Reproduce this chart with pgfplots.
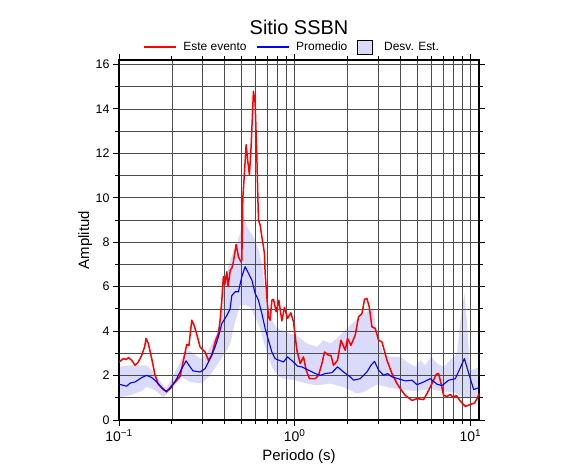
\documentclass[border=0pt]{standalone}
\usepackage{fontspec}
\setmainfont{Liberation Sans}
\usepackage{pgfplots}
\pgfplotsset{compat=1.18}
\usepgfplotslibrary{fillbetween}
\definecolor{bandcol}{RGB}{218,218,250}
\pgfplotsset{
  linelegend/.style={legend image code/.code={\draw[##1] (0bp,0bp) -- (32bp,0bp);}},
  boxlegend/.style={legend image code/.code={\draw[##1] (0bp,-7bp) rectangle (15bp,7bp);\path[draw=none,fill=none] (0bp,0bp) -- (20bp,0bp);}},
}
\begin{document}
\begin{tikzpicture}
\begin{axis}[
  at={(0,0)}, anchor=south west,
  scale only axis, width=360bp, height=360bp,
  set layers,
  xmode=log, xmin=0.1, xmax=11.2, ymin=0, ymax=16.2,
  xtick={0.1,1,10},
  xticklabels={{10\textsuperscript{\fontsize{10}{11}\selectfont −1}},{10\textsuperscript{\fontsize{10}{11}\selectfont 0}},{10\textsuperscript{\fontsize{10}{11}\selectfont 1}}},
  minor xtick={0.2,0.3,0.4,0.5,0.6,0.7,0.8,0.9,2,3,4,5,6,7,8,9},
  ytick={0,2,...,16}, minor ytick={1,3,...,15},
  grid=both,
  major grid style={black!70, line width=0.7bp},
  minor grid style={black!70, line width=0.7bp},
  axis line style={line width=1.6bp, black},
  tick align=outside,
  major tick length=6bp, minor tick length=4bp,
  tick style={black, line width=0.9bp},
  yticklabel style={font=\fontsize{12.5}{14}\selectfont},
  xticklabel style={font=\fontsize{14}{16}\selectfont},
  /pgf/number format/assume math mode=true,
  xlabel={Periodo (s)}, ylabel={Amplitud},
  label style={font=\fontsize{15}{18}\selectfont},
  xlabel style={at={(axis description cs:0.5,-0.103)}, anchor=center},
  ylabel style={at={(axis description cs:-0.094,0.5)}, anchor=center},
  title={Sitio SSBN},
  title style={at={(axis description cs:0.5,1.075)}, anchor=center, font=\fontsize{20}{24}\selectfont},
  legend style={at={(axis description cs:0.481,1.036)}, anchor=center, draw=none, fill=none,
    font=\fontsize{12}{14}\selectfont, inner sep=0pt,
    /tikz/every odd column/.append style={column sep=4.5bp},
    /tikz/every even column/.append style={column sep=8bp}},
  legend columns=3, legend cell align=left,
]
\addlegendimage{draw=red, line width=1.5bp, linelegend}
\addlegendentry{Este evento}
\addlegendimage{draw=blue, line width=1.1bp, linelegend}
\addlegendentry{Promedio}
\addlegendimage{fill=bandcol, draw=black, line width=0.8bp, boxlegend}
\addlegendentry{Desv. Est.}

\addplot[name path=up, draw=none, forget plot] coordinates {
(0.1000,2.39) (0.1155,2.46) (0.1438,2.46) (0.1604,2.09) (0.1788,1.55) (0.1870,1.45)
(0.2000,1.90) (0.2227,2.60) (0.2408,3.14) (0.2539,3.10) (0.2894,2.76) (0.3160,2.99)
(0.3450,3.59) (0.3680,4.00) (0.3763,4.50) (0.3929,6.00) (0.4290,7.20) (0.4685,7.95)
(0.4893,8.40) (0.5108,9.23) (0.5341,8.70) (0.5577,8.48) (0.5956,8.10) (0.6219,7.65)
(0.6503,7.05) (0.6790,5.85) (0.7091,5.09) (0.7416,4.49) (0.7920,4.12) (0.9342,3.89)
(1.029,3.82) (1.075,3.67) (1.174,3.44) (1.339,3.29) (1.459,3.59) (1.594,3.44)
(1.740,3.67) (1.897,3.96) (2.071,4.27) (2.361,4.64) (2.633,4.94) (2.812,4.94)
(2.940,3.74) (3.206,2.99) (3.500,2.84) (3.991,2.84) (4.357,2.61) (4.861,2.39)
(5.190,2.69) (5.541,2.46) (5.971,2.87) (6.461,2.54) (7.046,2.39) (7.692,2.69)
(8.398,2.99) (8.770,4.49) (9.244,5.70) (9.576,4.34) (10.00,2.24) (10.68,2.31) (11.21,2.39)
};
\addplot[name path=lo, draw=none, forget plot] coordinates {
(0.1000,1.03) (0.1155,1.11) (0.1347,1.30) (0.1438,1.50) (0.1604,1.34) (0.1788,1.03)
(0.1997,1.41) (0.2277,1.94) (0.2539,1.71) (0.2960,1.64) (0.3300,2.01) (0.3763,2.69)
(0.4108,3.14) (0.4290,3.44) (0.4581,4.42) (0.4893,5.17) (0.5223,5.17) (0.5577,5.09)
(0.5956,4.64) (0.6359,4.12) (0.6790,3.29) (0.7091,2.84) (0.7416,2.39) (0.7745,2.16)
(0.8128,1.94) (0.8634,1.86) (1.0065,1.79) (1.174,1.64) (1.339,1.56) (1.594,1.64)
(1.897,1.48) (2.262,1.19) (2.466,1.26) (2.940,1.60) (3.500,1.45) (4.168,1.35)
(4.970,1.30) (5.916,1.40) (6.746,1.30) (8.032,1.25) (8.770,1.11) (9.158,1.03)
(9.576,0.96) (10.00,0.96) (11.21,1.11)
};
\addplot[fill=bandcol, draw=none, forget plot] fill between[of=up and lo, on layer=axis background];

\addplot[red, line width=1.5bp, line join=round, forget plot] coordinates {
(0.1000,2.61) (0.1058,2.76) (0.1100,2.72) (0.1130,2.81) (0.1181,2.69) (0.1234,2.46)
(0.1288,2.61) (0.1347,2.91) (0.1400,3.30) (0.1425,3.67) (0.1469,3.44) (0.1536,2.76)
(0.1604,2.01) (0.1675,1.60) (0.1788,1.37) (0.1870,1.26) (0.1997,1.56) (0.2132,1.79)
(0.2230,1.98) (0.2370,2.99) (0.2431,3.40) (0.2500,3.35) (0.2596,4.49) (0.2675,4.27)
(0.2794,3.75) (0.2894,3.29) (0.3000,3.15) (0.3090,3.06) (0.3227,2.69) (0.3375,2.91)
(0.3524,3.51) (0.3680,3.90) (0.3763,4.49) (0.3848,5.39) (0.3929,6.45) (0.4000,6.10)
(0.4108,6.67) (0.4180,6.00) (0.4300,6.75) (0.4387,6.83) (0.4479,7.12) (0.4642,7.90)
(0.4784,7.35) (0.4937,7.12) (0.5002,7.20) (0.5068,10.0) (0.5176,11.1) (0.5292,12.39)
(0.5411,11.63) (0.5526,11.03) (0.5651,12.31) (0.5824,14.79) (0.5956,14.27) (0.6090,11.86)
(0.6219,9.00) (0.6350,8.80) (0.6503,8.25) (0.6641,7.80) (0.6729,7.50) (0.6790,6.60)
(0.6944,5.54) (0.7091,4.64) (0.7252,4.49) (0.7416,5.39) (0.7573,5.43) (0.7847,4.87)
(0.8128,5.39) (0.8454,4.46) (0.8748,5.07) (0.9100,4.57) (0.9513,4.82) (0.9845,4.42)
(1.029,3.14) (1.075,2.54) (1.122,2.84) (1.163,2.24) (1.214,1.86) (1.309,1.86)
(1.367,2.01) (1.429,2.54) (1.479,3.06) (1.558,2.91) (1.608,2.91) (1.664,2.46)
(1.754,2.69) (1.834,3.59) (1.940,3.14) (1.999,3.67) (2.090,3.36) (2.212,3.82)
(2.309,4.64) (2.415,4.79) (2.498,5.43) (2.578,5.47) (2.657,5.09) (2.753,4.19)
(2.875,4.12) (3.003,3.59) (3.140,3.51) (3.352,2.69) (3.579,2.09) (3.823,1.64)
(3.991,1.41) (4.262,1.11) (4.653,0.88) (4.970,0.96) (5.420,0.92) (5.666,1.19)
(6.049,1.64) (6.401,2.06) (6.598,2.09) (6.808,1.64) (7.046,1.11) (7.367,1.06)
(7.692,1.15) (7.969,1.01) (8.322,1.11) (8.770,0.85) (9.365,0.61) (10.00,0.70)
(10.54,0.76) (10.92,0.96) (11.21,1.19)
};
\addplot[blue, line width=1.1bp, line join=round, forget plot] coordinates {
(0.1000,1.61) (0.1058,1.56) (0.1106,1.52) (0.1155,1.66) (0.1234,1.71) (0.1347,1.91)
(0.1438,2.01) (0.1536,1.91) (0.1640,1.71) (0.1751,1.46) (0.1850,1.29) (0.1960,1.41)
(0.2132,1.86) (0.2277,2.31) (0.2408,2.66) (0.2539,2.39) (0.2640,2.21) (0.2894,2.16)
(0.3090,2.31) (0.3300,2.76) (0.3524,3.29) (0.3680,3.74) (0.3848,4.34) (0.4108,4.70)
(0.4290,5.00) (0.4387,5.60) (0.4581,5.77) (0.4784,5.77) (0.5002,6.45) (0.5223,6.90)
(0.5454,6.60) (0.5703,6.30) (0.5956,5.70) (0.6219,5.39) (0.6503,4.79) (0.6790,4.12)
(0.7091,3.59) (0.7416,3.06) (0.7745,2.76) (0.8128,2.69) (0.8634,2.61) (0.9100,2.84)
(0.9845,2.61) (1.040,2.42) (1.100,2.39) (1.199,2.24) (1.309,2.09) (1.398,2.01)
(1.492,2.09) (1.629,2.13) (1.754,2.39) (1.897,2.16) (2.071,1.94) (2.163,1.79)
(2.361,1.86) (2.578,2.16) (2.717,2.46) (2.849,2.64) (3.003,2.24) (3.206,2.01)
(3.378,2.09) (3.579,1.94) (3.991,1.83) (4.262,1.76) (4.653,1.79) (4.970,1.59)
(5.420,1.71) (5.916,1.86) (6.461,1.61) (6.898,1.55) (7.522,1.79) (8.213,1.86)
(9.244,2.76) (10.44,1.37) (11.21,1.46)
};
\end{axis}
\pgfresetboundingbox
\path[use as bounding box] (-119bp,-55bp) rectangle (467bp,420bp);
\end{tikzpicture}
\end{document}
